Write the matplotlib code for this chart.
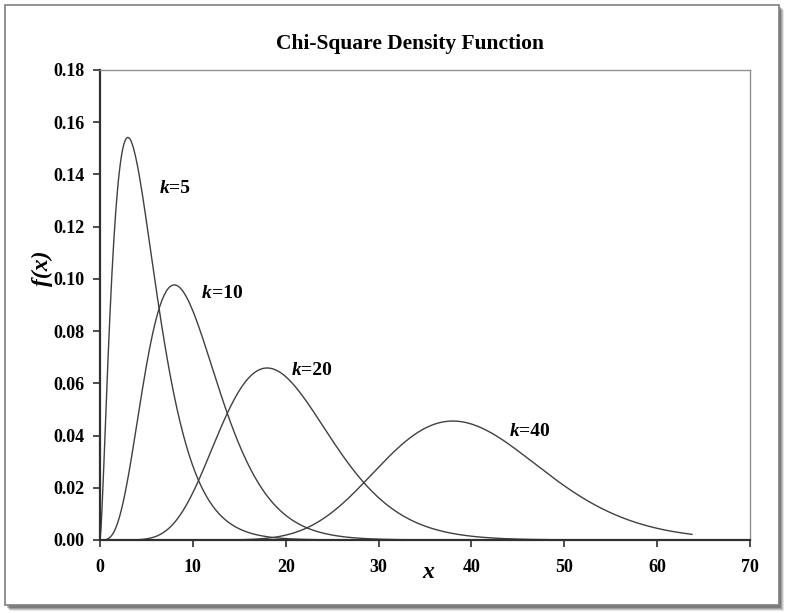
import math
import numpy as np
import matplotlib
matplotlib.use("Agg")
import matplotlib.pyplot as plt
from matplotlib.patches import Rectangle

# degrees of freedom shown in the chart, with where each label sits
dof = [5, 10, 20, 40]
label_x = [6.4, 11.0, 20.6, 44.1]
label_y = [0.1345, 0.0945, 0.0650, 0.0415]

# the curves are drawn from x = 0 up to about 64
x_max = 63.75
x = np.linspace(0, x_max, 600)

xticks = [0, 10, 20, 30, 40, 50, 60, 70]
yticks = [0.00, 0.02, 0.04, 0.06, 0.08, 0.10, 0.12, 0.14, 0.16, 0.18]


def chi2_pdf(x, k):
    x = np.asarray(x, dtype=float)
    out = np.zeros_like(x)
    pos = x > 0
    out[pos] = np.exp((k / 2 - 1) * np.log(x[pos]) - x[pos] / 2
                      - (k / 2) * math.log(2) - math.lgamma(k / 2))
    return out


plt.rcParams['font.family'] = ['Liberation Serif', 'DejaVu Serif']

fig = plt.figure(figsize=(7.86, 6.13), dpi=100)
W, H = 786, 613

# outer frame with a soft shadow
for i, a in enumerate([0.10, 0.14, 0.18, 0.22]):
    off = 4 - i
    fig.patches.append(Rectangle(((6 + off) / W, (613 - 607 - off) / H),
                                 774 / W, 601 / H, transform=fig.transFigure,
                                 facecolor=(0, 0, 0, a), edgecolor='none', zorder=0))
fig.patches.append(Rectangle((5 / W, (613 - 605) / H), 774 / W, 600 / H,
                             transform=fig.transFigure, facecolor='white',
                             edgecolor='#808080', linewidth=1.2, zorder=1))

ax = fig.add_axes([100 / W, (613 - 540) / H, 650 / W, 470 / H])
ax.set_zorder(2)

for k in dof:
    ax.plot(x, chi2_pdf(x, k), color='#404040', linewidth=1.0)

# "k" in italic, then "=n" upright, a little apart
for k, lx, ly in zip(dof, label_x, label_y):
    ax.text(lx, ly, 'k', fontsize=14, fontweight='bold', style='italic',
            ha='left', va='center')
    ax.text(lx + 1.05, ly, '=' + str(k), fontsize=14,
            fontweight='bold', ha='left', va='center')

ax.set_xlim(0, 70)
ax.set_ylim(0, 0.18)
ax.set_xticks(xticks)
ax.set_yticks(yticks)
ax.set_xticklabels([str(t) for t in xticks])
ax.set_yticklabels(['%.2f' % t for t in yticks])
ax.tick_params(direction='out', length=5, width=1.2, color='#303030',
               labelsize=13, pad=6)
for lab in ax.get_xticklabels() + ax.get_yticklabels():
    lab.set_fontweight('bold')
ax.tick_params(axis='x', pad=9)

ax.spines['left'].set_linewidth(1.6)
ax.spines['bottom'].set_linewidth(1.6)
ax.spines['left'].set_color('#303030')
ax.spines['bottom'].set_color('#303030')
ax.spines['top'].set_color('#909090')
ax.spines['right'].set_color('#909090')
ax.spines['top'].set_linewidth(1.0)
ax.spines['right'].set_linewidth(1.0)

fig.text(410 / W, 1 - 44 / H, 'Chi-Square Density Function', fontsize=15.5,
         fontweight='bold', ha='center', va='center')
fig.text(428 / W, 1 - 573 / H, 'x', fontsize=17, fontweight='bold',
         style='italic', ha='center', va='center')
fig.text(42 / W, 1 - 268 / H, 'f(x)', fontsize=17, fontweight='bold',
         style='italic', ha='center', va='center', rotation=90)

fig.savefig('out.png', dpi=100)
